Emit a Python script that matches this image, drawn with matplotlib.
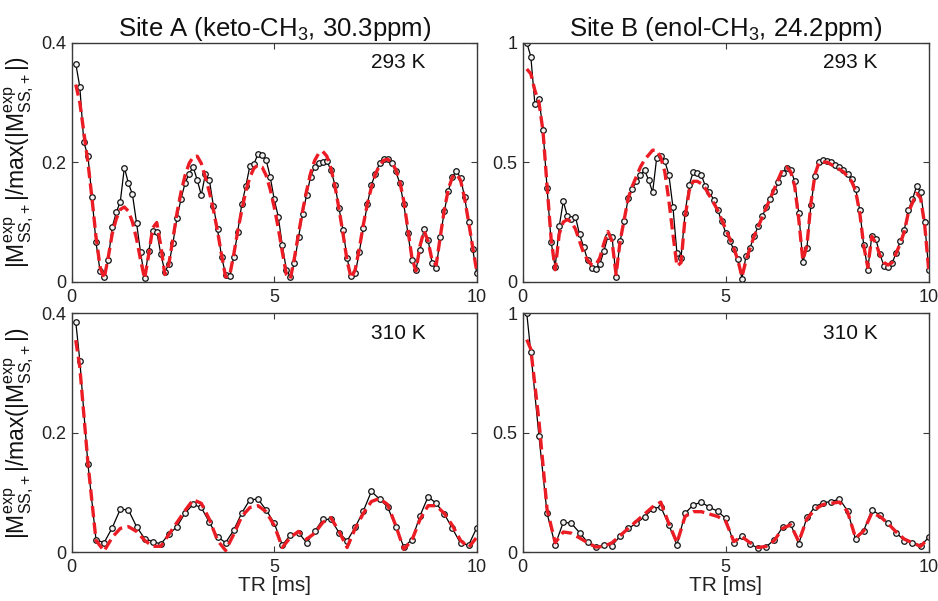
import numpy as np
import matplotlib
matplotlib.use("Agg")
import matplotlib.pyplot as plt

plt.rcParams["font.family"] = ["Liberation Sans", "DejaVu Sans"]
plt.rcParams["mathtext.default"] = "regular"

# TR grids [ms]
tr_fine = np.round(np.arange(1, 101) * 0.1, 1)                      # 293 K scans
tr_coarse = np.round(np.concatenate([[0.1], np.arange(1, 51) * 0.2]), 1)  # 310 K scans

# Site A, 293 K
a293_exp = [0.365, 0.326, 0.233, 0.211, 0.142, 0.066, 0.018, 0.008, 0.036, 0.091,
            0.116, 0.134, 0.191, 0.165, 0.146, 0.099, 0.049, 0.007, 0.051, 0.085,
            0.084, 0.046, 0.017, 0.029, 0.065, 0.107, 0.139, 0.165, 0.181, 0.192,
            0.170, 0.145, 0.180, 0.170, 0.126, 0.088, 0.042, 0.012, 0.009, 0.041,
            0.084, 0.130, 0.160, 0.194, 0.197, 0.214, 0.212, 0.204, 0.176, 0.138,
            0.109, 0.061, 0.020, 0.008, 0.032, 0.074, 0.113, 0.145, 0.176, 0.192,
            0.199, 0.201, 0.202, 0.187, 0.162, 0.123, 0.086, 0.039, 0.009, 0.014,
            0.049, 0.090, 0.130, 0.162, 0.181, 0.198, 0.205, 0.206, 0.198, 0.185,
            0.165, 0.130, 0.081, 0.036, 0.020, 0.053, 0.088, 0.070, 0.031, 0.023,
            0.074, 0.118, 0.152, 0.176, 0.185, 0.174, 0.142, 0.100, 0.055, 0.015]
a293_fit = [0.330, 0.300, 0.250, 0.200, 0.140, 0.075, 0.025, 0.005, 0.040, 0.080,
            0.105, 0.121, 0.125, 0.118, 0.100, 0.072, 0.037, 0.005, 0.045, 0.090,
            0.099, 0.060, 0.012, 0.030, 0.072, 0.115, 0.150, 0.178, 0.198, 0.209,
            0.210, 0.198, 0.175, 0.150, 0.120, 0.085, 0.045, 0.008, 0.010, 0.045,
            0.085, 0.120, 0.152, 0.175, 0.190, 0.195, 0.192, 0.178, 0.155, 0.125,
            0.090, 0.050, 0.012, 0.005, 0.040, 0.080, 0.118, 0.152, 0.182, 0.203,
            0.215, 0.218, 0.210, 0.190, 0.160, 0.122, 0.080, 0.035, 0.006, 0.020,
            0.055, 0.095, 0.130, 0.158, 0.180, 0.195, 0.203, 0.205, 0.200, 0.188,
            0.168, 0.135, 0.088, 0.040, 0.018, 0.060, 0.085, 0.068, 0.035, 0.028,
            0.075, 0.120, 0.155, 0.175, 0.180, 0.170, 0.140, 0.100, 0.058, 0.018]

# Site B, 293 K
b293_exp = [1.000, 0.942, 0.743, 0.765, 0.636, 0.392, 0.167, 0.060, 0.232, 0.337,
            0.274, 0.263, 0.271, 0.198, 0.146, 0.090, 0.058, 0.054, 0.074, 0.128,
            0.190, 0.188, 0.021, 0.170, 0.253, 0.351, 0.388, 0.420, 0.448, 0.466,
            0.427, 0.374, 0.518, 0.525, 0.504, 0.448, 0.313, 0.118, 0.100, 0.288,
            0.406, 0.458, 0.455, 0.446, 0.400, 0.376, 0.343, 0.302, 0.253, 0.205,
            0.170, 0.135, 0.093, 0.013, 0.107, 0.142, 0.191, 0.232, 0.274, 0.312,
            0.344, 0.378, 0.417, 0.455, 0.476, 0.469, 0.420, 0.288, 0.082, 0.142,
            0.323, 0.441, 0.499, 0.511, 0.504, 0.499, 0.490, 0.480, 0.469, 0.452,
            0.430, 0.388, 0.302, 0.152, 0.051, 0.193, 0.177, 0.114, 0.065, 0.063,
            0.079, 0.121, 0.170, 0.218, 0.302, 0.344, 0.399, 0.376, 0.249, 0.051]
b293_fit = [0.890, 0.870, 0.800, 0.750, 0.630, 0.400, 0.180, 0.050, 0.200, 0.250,
            0.260, 0.250, 0.220, 0.170, 0.120, 0.090, 0.070, 0.070, 0.100, 0.160,
            0.210, 0.170, 0.030, 0.170, 0.260, 0.350, 0.400, 0.440, 0.480, 0.510,
            0.530, 0.550, 0.550, 0.520, 0.460, 0.340, 0.200, 0.065, 0.080, 0.270,
            0.380, 0.420, 0.420, 0.410, 0.390, 0.360, 0.330, 0.300, 0.260, 0.220,
            0.180, 0.140, 0.090, 0.020, 0.090, 0.140, 0.190, 0.230, 0.270, 0.310,
            0.350, 0.390, 0.430, 0.470, 0.480, 0.460, 0.400, 0.260, 0.090, 0.150,
            0.330, 0.450, 0.500, 0.500, 0.500, 0.490, 0.480, 0.470, 0.460, 0.440,
            0.420, 0.380, 0.290, 0.150, 0.060, 0.190, 0.160, 0.110, 0.080, 0.070,
            0.080, 0.120, 0.160, 0.210, 0.290, 0.330, 0.370, 0.350, 0.240, 0.050]

# Site A, 310 K
a310_exp = [0.386, 0.321, 0.148, 0.021, 0.016, 0.041, 0.072, 0.071, 0.043, 0.023,
            0.018, 0.014, 0.030, 0.043, 0.066, 0.080, 0.075, 0.050, 0.026, 0.016,
            0.037, 0.066, 0.088, 0.089, 0.071, 0.049, 0.012, 0.029, 0.033, 0.016,
            0.035, 0.055, 0.055, 0.033, 0.019, 0.042, 0.069, 0.102, 0.089, 0.076,
            0.043, 0.009, 0.021, 0.061, 0.093, 0.082, 0.064, 0.040, 0.015, 0.012,
            0.041]
a310_fit = [0.355, 0.310, 0.150, 0.020, 0.002, 0.025, 0.040, 0.043, 0.035, 0.020,
            0.010, 0.010, 0.030, 0.050, 0.070, 0.088, 0.082, 0.055, 0.020, 0.003,
            0.030, 0.060, 0.075, 0.078, 0.068, 0.045, 0.008, 0.025, 0.035, 0.022,
            0.032, 0.050, 0.058, 0.035, 0.008, 0.040, 0.065, 0.085, 0.090, 0.080,
            0.045, 0.005, 0.020, 0.055, 0.078, 0.078, 0.065, 0.045, 0.020, 0.008,
            0.025]

# Site B, 310 K
b310_exp = [1.000, 0.837, 0.487, 0.163, 0.031, 0.126, 0.121, 0.082, 0.042, 0.021,
            0.031, 0.028, 0.068, 0.100, 0.121, 0.149, 0.181, 0.191, 0.114, 0.031,
            0.163, 0.198, 0.210, 0.188, 0.172, 0.142, 0.038, 0.068, 0.035, 0.017,
            0.024, 0.052, 0.105, 0.117, 0.035, 0.146, 0.191, 0.208, 0.212, 0.223,
            0.174, 0.054, 0.091, 0.177, 0.156, 0.121, 0.082, 0.049, 0.040, 0.026,
            0.063]
b310_fit = [0.890, 0.850, 0.550, 0.180, 0.040, 0.085, 0.080, 0.060, 0.040, 0.022,
            0.025, 0.040, 0.070, 0.100, 0.130, 0.160, 0.190, 0.210, 0.120, 0.040,
            0.150, 0.170, 0.170, 0.160, 0.150, 0.130, 0.045, 0.065, 0.040, 0.020,
            0.025, 0.050, 0.100, 0.115, 0.045, 0.140, 0.180, 0.200, 0.205, 0.210,
            0.170, 0.060, 0.090, 0.165, 0.150, 0.120, 0.085, 0.055, 0.040, 0.025,
            0.060]

titles = ["Site A (keto-CH$_3$, 30.3ppm)", "Site B (enol-CH$_3$, 24.2ppm)"]
temps = ["293 K", "310 K"]
ylims = [0.4, 1.0]
yticks = [[0, 0.2, 0.4], [0, 0.5, 1]]
yticklabels = [["0", "0.2", "0.4"], ["0", "0.5", "1"]]
ylabel = r"$|M^{exp}_{SS{,}+}|$/max($|M^{exp}_{SS{,}+}|$)"

panels = [[(tr_fine, a293_exp, a293_fit), (tr_fine, b293_exp, b293_fit)],
          [(tr_coarse, a310_exp, a310_fit), (tr_coarse, b310_exp, b310_fit)]]

W, H = 938, 601
fig = plt.figure(figsize=(W / 100, H / 100), dpi=100)
lefts = [71.7, 522.7]
widths = [405.0, 406.0]
tops = [42.7, 313.3]
ph = 239.0
spine_c = "#3a3a3a"

for r in range(2):
    for c in range(2):
        ax = fig.add_axes([lefts[c] / W, 1 - (tops[r] + ph) / H, widths[c] / W, ph / H])
        x, y_exp, y_fit = panels[r][c]
        ax.plot(x, y_exp, "-", color="black", lw=0.9, marker="o", ms=4.0,
                mfc="#f2f2f2", mec="#111111", mew=0.9, zorder=2)
        ax.plot(x, y_fit, "--", color="#ec1c24", lw=2.4, dashes=(3.4, 1.6), zorder=3)
        ax.set_xlim(0, 10)
        ax.set_ylim(0, ylims[c])
        ax.set_xticks([0, 5, 10])
        ax.set_yticks(yticks[c])
        ax.set_yticklabels(yticklabels[c])
        ax.tick_params(direction="in", top=True, right=True, length=4, width=0.8,
                       labelsize=13, colors=spine_c, labelcolor="#222222")
        ax.tick_params(axis="x", pad=5)
        ax.tick_params(axis="y", pad=4)
        for s in ax.spines.values():
            s.set_color(spine_c)
            s.set_linewidth(1.0)
        ax.text(0.74, 0.955, temps[r], transform=ax.transAxes, fontsize=15,
                ha="left", va="top", color="#111111")
        if r == 0:
            ax.set_title(titles[c], fontsize=18.5, pad=5, color="#111111")
        else:
            ax.set_xlabel("TR [ms]", fontsize=15, labelpad=0, color="#222222")
        if c == 0:
            ax.set_ylabel(ylabel, fontsize=16.5, color="#111111")
            ax.yaxis.set_label_coords(-0.088, 0.5)

fig.savefig("out.png", dpi=100)
